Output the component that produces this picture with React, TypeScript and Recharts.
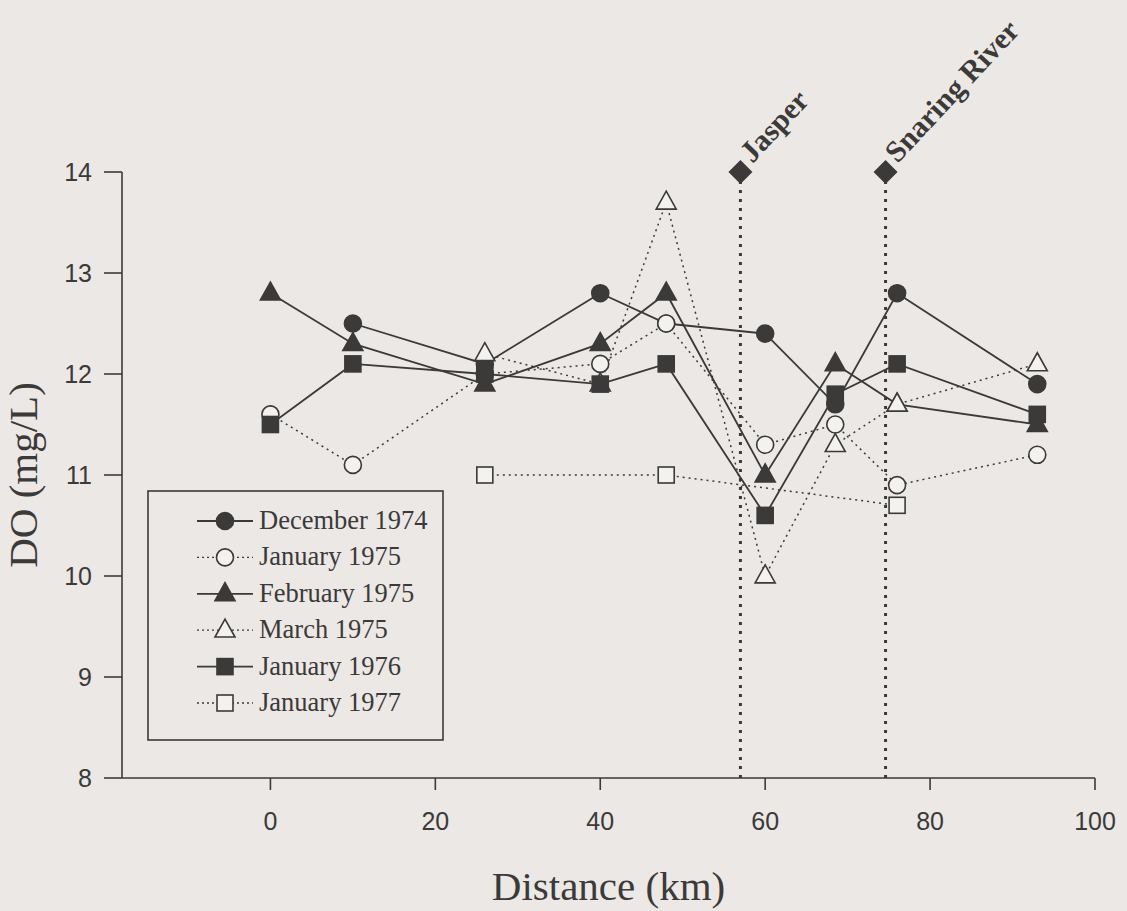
import React from 'react';
import {
  LineChart,
  Line,
  XAxis,
  YAxis,
  ReferenceLine,
  ReferenceDot,
  Legend,
} from 'recharts';

// Sampling sites along the river (km) and dissolved oxygen (mg/L) per survey
const kmDec1974 = [10, 26, 40, 48, 60, 68.5, 76, 93];
const doDec1974 = [12.5, 12.1, 12.8, 12.5, 12.4, 11.7, 12.8, 11.9];

const kmJan1975 = [0, 10, 26, 40, 48, 60, 68.5, 76, 93];
const doJan1975 = [11.6, 11.1, 12.0, 12.1, 12.5, 11.3, 11.5, 10.9, 11.2];

const kmFeb1975 = [0, 10, 26, 40, 48, 60, 68.5, 76, 93];
const doFeb1975 = [12.8, 12.3, 11.9, 12.3, 12.8, 11.0, 12.1, 11.7, 11.5];

const kmMar1975 = [26, 40, 48, 60, 68.5, 76, 93];
const doMar1975 = [12.2, 11.9, 13.7, 10.0, 11.3, 11.7, 12.1];

const kmJan1976 = [0, 10, 26, 40, 48, 60, 68.5, 76, 93];
const doJan1976 = [11.5, 12.1, 12.0, 11.9, 12.1, 10.6, 11.8, 12.1, 11.6];

const kmJan1977 = [26, 48, 76];
const doJan1977 = [11.0, 11.0, 10.7];

// Landmarks along the river
const landmarkNames = ['Jasper', 'Snaring River'];
const landmarkKm = [57, 74.6];

const xTicks = [0, 20, 40, 60, 80, 100];
const yTicks = [8, 9, 10, 11, 12, 13, 14];

const INK = '#3b3a39';
const BG = '#ebe8e5';
const SERIF = "'Liberation Serif', 'Times New Roman', serif";

type MarkerKind = 'circle' | 'triangle' | 'square';

const zip = (xs: number[], ys: number[]) => xs.map((x, i) => ({ x, y: ys[i] }));

const series = [
  { name: 'December 1974', data: zip(kmDec1974, doDec1974), kind: 'circle' as MarkerKind, filled: true, dotted: false },
  { name: 'January 1975', data: zip(kmJan1975, doJan1975), kind: 'circle' as MarkerKind, filled: false, dotted: true },
  { name: 'February 1975', data: zip(kmFeb1975, doFeb1975), kind: 'triangle' as MarkerKind, filled: true, dotted: false },
  { name: 'March 1975', data: zip(kmMar1975, doMar1975), kind: 'triangle' as MarkerKind, filled: false, dotted: true },
  { name: 'January 1976', data: zip(kmJan1976, doJan1976), kind: 'square' as MarkerKind, filled: true, dotted: false },
  { name: 'January 1977', data: zip(kmJan1977, doJan1977), kind: 'square' as MarkerKind, filled: false, dotted: true },
];

function Marker({ kind, filled, cx, cy }: { kind: MarkerKind; filled: boolean; cx: number; cy: number }) {
  const fill = filled ? INK : '#f4f2ef';
  const sw = 1.6;
  if (kind === 'circle') {
    return <circle cx={cx} cy={cy} r={8.5} fill={fill} stroke={INK} strokeWidth={sw} />;
  }
  if (kind === 'triangle') {
    const h = 18;
    const w = 20;
    const pts = `${cx},${cy - h * 0.62} ${cx - w / 2},${cy + h * 0.38} ${cx + w / 2},${cy + h * 0.38}`;
    return <polygon points={pts} fill={fill} stroke={INK} strokeWidth={sw} strokeLinejoin="miter" />;
  }
  return <rect x={cx - 8} y={cy - 8} width={16} height={16} fill={fill} stroke={INK} strokeWidth={sw} />;
}

function LegendBox() {
  const rowH = 36.4;
  return (
    <svg width={297} height={251} style={{ display: 'block' }}>
      <rect x={1} y={1} width={295} height={249} fill="none" stroke={INK} strokeWidth={1.6} />
      {series.map((s, i) => {
        const y = 31 + i * rowH;
        return (
          <g key={s.name}>
            <line
              x1={50}
              x2={106}
              y1={y}
              y2={y}
              stroke={INK}
              strokeWidth={s.dotted ? 1.3 : 1.8}
              strokeDasharray={s.dotted ? '2 3' : undefined}
            />
            <Marker kind={s.kind} filled={s.filled} cx={78} cy={y} />
            <text x={112} y={y + 8} fontFamily={SERIF} fontSize={26.5} fill={INK}>
              {s.name}
            </text>
          </g>
        );
      })}
    </svg>
  );
}

function LandmarkShape(props: any) {
  const { cx, cy, label } = props;
  const d = 12;
  return (
    <g>
      <polygon
        points={`${cx},${cy - d} ${cx + d},${cy} ${cx},${cy + d} ${cx - d},${cy}`}
        fill={INK}
      />
      <text
        x={cx + 12}
        y={cy - 8}
        transform={`rotate(-47 ${cx + 12} ${cy - 8})`}
        fontFamily={SERIF}
        fontWeight="bold"
        fontSize={30}
        fill={INK}
      >
        {label}
      </text>
    </g>
  );
}

const tickStyle = {
  fontFamily: "'Liberation Sans', Arial, sans-serif",
  fontSize: 25,
  fill: INK,
};

export default function App() {
  return (
    <div style={{ position: 'absolute', left: 0, top: 0, width: 1127, height: 911, background: BG }}>
      <LineChart width={1127} height={911} margin={{ top: 172, right: 32, bottom: 103, left: 0 }}>
        <XAxis
          type="number"
          dataKey="x"
          domain={[-18, 100]}
          ticks={xTicks}
          allowDataOverflow
          height={30}
          stroke={INK}
          strokeWidth={1.6}
          tickSize={12}
          tickMargin={22}
          tick={tickStyle}
          label={{
            value: 'Distance (km)',
            position: 'insideBottom',
            offset: -92,
            style: { fontFamily: SERIF, fontSize: 41, fill: INK, textAnchor: 'middle' },
          }}
        />
        <YAxis
          type="number"
          dataKey="y"
          domain={[8, 14]}
          ticks={yTicks}
          allowDataOverflow
          width={122}
          stroke={INK}
          strokeWidth={1.6}
          tickSize={18}
          tickMargin={12}
          tick={tickStyle}
          label={{
            value: 'DO (mg/L)',
            angle: -90,
            position: 'insideLeft',
            offset: 22,
            style: { fontFamily: SERIF, fontSize: 41, fill: INK, textAnchor: 'middle' },
          }}
        />
        {landmarkKm.map((km) => (
          <ReferenceLine
            key={`line-${km}`}
            x={km}
            stroke={INK}
            strokeWidth={3}
            strokeDasharray="3 6"
            ifOverflow="extendDomain"
          />
        ))}
        {series.map((s) => (
          <Line
            key={s.name}
            data={s.data}
            dataKey="y"
            name={s.name}
            type="linear"
            stroke={INK}
            strokeWidth={s.dotted ? 1.5 : 1.8}
            strokeDasharray={s.dotted ? '2 4' : undefined}
            isAnimationActive={false}
            legendType="none"
            dot={(p: any) => (
              <Marker key={`${s.name}-${p.index}`} kind={s.kind} filled={s.filled} cx={p.cx} cy={p.cy} />
            )}
            activeDot={false}
          />
        ))}
        {landmarkKm.map((km, i) => (
          <ReferenceDot
            key={`dot-${km}`}
            x={km}
            y={14}
            ifOverflow="visible"
            shape={(p: any) => <LandmarkShape {...p} label={landmarkNames[i]} />}
          />
        ))}
        <Legend
          layout="vertical"
          align="center"
          verticalAlign="middle"
          wrapperStyle={{ position: 'absolute', left: 147, top: 490, width: 297, height: 251 }}
          content={() => <LegendBox />}
        />
      </LineChart>
    </div>
  );
}
